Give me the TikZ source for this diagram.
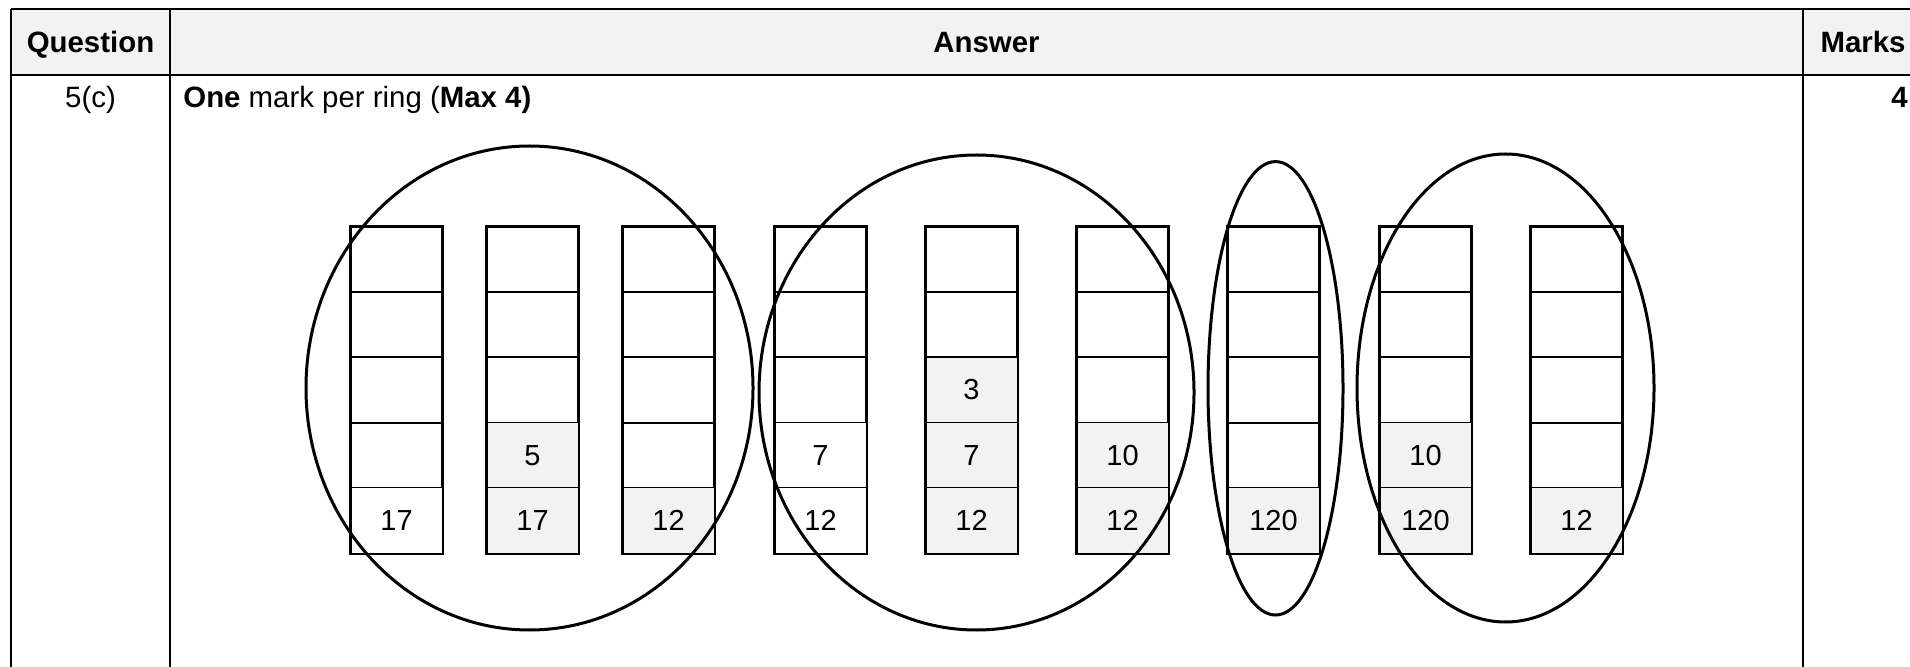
\documentclass[tikz,border=0pt]{standalone}
\usepackage{fontspec}
\setmainfont{Liberation Sans}
\definecolor{headgray}{HTML}{F2F2F2}
\definecolor{cellgray}{HTML}{F2F2F2}
\begin{document}
\begin{tikzpicture}[x=0.5pt,y=-0.5pt,
  txt/.style={inner sep=0pt,font=\fontsize{14.7}{17}\selectfont},
  tableline/.style={line width=1.15pt,black},
  cell/.style={rectangle,draw,line width=1pt,minimum width=45.5pt,minimum height=32.6pt,inner sep=0pt},
  tcell/.style={rectangle,draw,line width=0.5pt,minimum width=45.5pt,minimum height=32.6pt,inner sep=0pt,fill=white,font=\fontsize{14.5}{16}\selectfont},
  gcell/.style={tcell,fill=cellgray},
  stackline/.style={line width=1pt,black},
  ring/.style={line width=1.5pt,black}]
\useasboundingbox (0,0) rectangle (1910,667);
% table
\fill[headgray] (11,9) rectangle (1910,75);
\draw[tableline] (11,9) -- (1910,9);
\draw[tableline] (11,75) -- (1910,75);
\draw[tableline] (11,9) -- (11,667);
\draw[tableline] (170,9) -- (170,667);
\draw[tableline] (1803,9) -- (1803,667);
% header texts
\node[txt,anchor=base,font=\fontsize{14.7}{17}\selectfont\bfseries] (hq) at (90.5,53) {Question};
\node[txt,anchor=base,font=\fontsize{14.7}{17}\selectfont\bfseries] (ha) at (986.5,53) {Answer};
\node[txt,anchor=base,font=\fontsize{14.7}{17}\selectfont\bfseries] (hm) at (1863,53) {Marks};
% row texts
\node[txt,anchor=base] (q) at (90.5,108) {5(c)};
\node[txt,anchor=base west] (ans) at (183,108) {\textbf{One} mark per ring (\textbf{Max 4)}};
\node[txt,anchor=base east] (mk) at (1908,108) {\textbf{4}};
% stacks
\foreach \k/\L in {1/351,2/487,3/623,4/775,5/926,6/1077,7/1228,8/1380,9/1531} {
  \foreach \r in {1,...,5} {
    \node[cell] (s\k r\r) at ({\L+45.5},{227+65.2*(\r-0.5)}) {};
  }
}
% filled cells
\node[tcell] (t1r5) at (s1r5) {17};
\node[gcell] (t2r4) at (s2r4) {5};
\node[gcell] (t2r5) at (s2r5) {17};
\node[gcell] (t3r5) at (s3r5) {12};
\node[tcell] (t4r4) at (s4r4) {7};
\node[tcell] (t4r5) at (s4r5) {12};
\node[gcell] (t5r3) at (s5r3) {3};
\node[gcell] (t5r4) at (s5r4) {7};
\node[gcell] (t5r5) at (s5r5) {12};
\node[gcell] (t6r4) at (s6r4) {10};
\node[gcell] (t6r5) at (s6r5) {12};
\node[gcell] (t7r5) at (s7r5) {120};
\node[gcell] (t8r4) at (s8r4) {10};
\node[gcell] (t8r5) at (s8r5) {120};
\node[gcell] (t9r5) at (s9r5) {12};
% outer frames of stacks
\foreach \k in {1,...,9} {
  \draw[stackline] (s\k r1.north west) rectangle (s\k r5.south east);
}
% rings
\draw[ring] (529.5,388) ellipse [x radius=111.75pt, y radius=121pt];
\draw[ring] (976.5,392.5) ellipse [x radius=108.75pt, y radius=118.75pt];
\draw[ring] (1275.5,388.3) ellipse [x radius=33.75pt, y radius=113.35pt];
\draw[ring] (1505.5,388) ellipse [x radius=74.25pt, y radius=117pt];
\end{tikzpicture}
\end{document}
